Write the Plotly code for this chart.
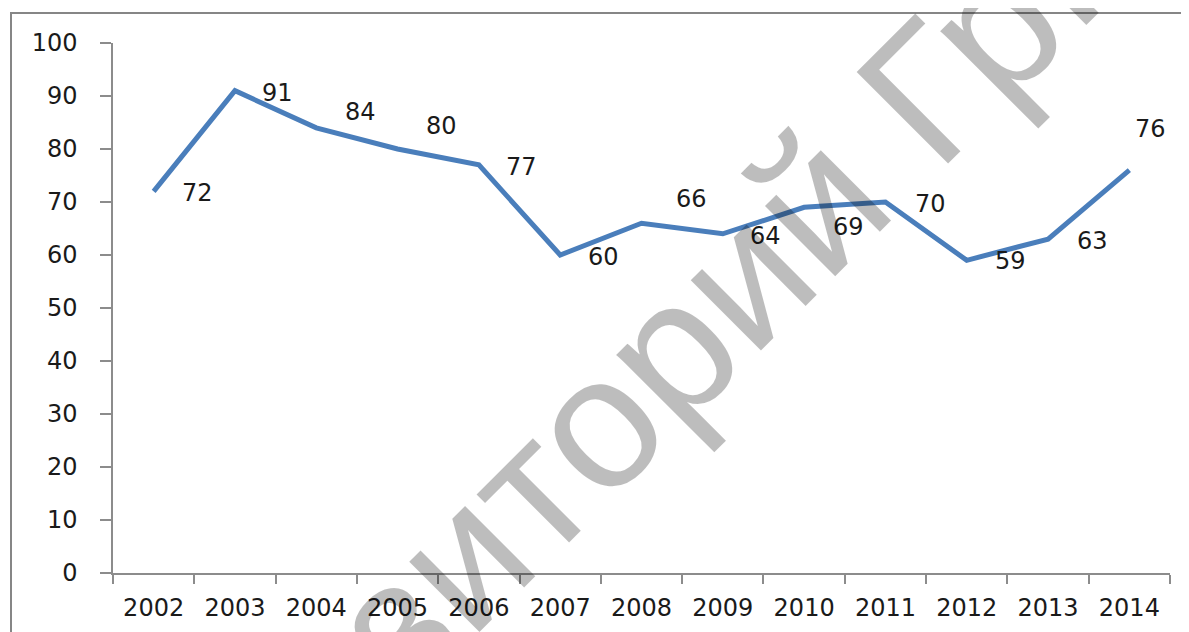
import plotly.graph_objects as go

years = ["2002", "2003", "2004", "2005", "2006", "2007", "2008",
         "2009", "2010", "2011", "2012", "2013", "2014"]
values = [72, 91, 84, 80, 77, 60, 66, 64, 69, 70, 59, 63, 76]
y_ticks = [0, 10, 20, 30, 40, 50, 60, 70, 80, 90, 100]
watermark = "Репозиторий ГрГУ"

# label placement offsets (pixels, image coords: +right, +down)
label_dx = [44, 43, 44, 44, 43, 43, 50, 43, 44, 45, 44, 44, 21]
label_dy = [2, 2, -16, -23, 2, 2, -24, 2, 20, 2, 1, 2, -41]

FONT = "DejaVu Sans"
AXIS_COLOR = "#8c8c8c"
TXT = "#1a1a1a"

fig = go.Figure()
fig.add_trace(go.Scatter(
    x=years, y=values, mode="lines",
    line=dict(color="#4A7EBB", width=5),
    hoverinfo="skip", showlegend=False,
))

for i, (v, dx, dy) in enumerate(zip(values, label_dx, label_dy)):
    fig.add_annotation(
        x=i, y=v, xref="x", yref="y", text=str(v), showarrow=False,
        xanchor="center", yanchor="middle", xshift=dx, yshift=-dy,
        font=dict(family=FONT, size=24, color=TXT),
    )

# outer chart frame
fig.add_shape(type="rect", xref="paper", yref="paper",
              x0=-0.0965, x1=1.08, y0=-0.3, y1=1.0566,
              line=dict(color="#868686", width=2), fillcolor="rgba(0,0,0,0)",
              layer="below")

# watermark
fig.add_annotation(
    x=0.484, y=0.336, xref="paper", yref="paper", text=watermark,
    showarrow=False, textangle=-45, xanchor="center", yanchor="middle",
    font=dict(family="Liberation Sans", size=188, color="rgba(0,0,0,0.26)"),
)

fig.update_layout(
    width=1189, height=632,
    margin=dict(l=105, r=27, t=35, b=67),
    paper_bgcolor="white", plot_bgcolor="white",
    font=dict(family=FONT, size=24, color=TXT),
    xaxis=dict(
        type="category", showline=True, linecolor=AXIS_COLOR, linewidth=1.5,
        ticks="outside", tickson="boundaries", ticklen=9, tickcolor=AXIS_COLOR,
        tickwidth=1.5, showgrid=False, zeroline=False,
        ticklabelstandoff=12,
        tickfont=dict(family=FONT, size=24, color=TXT),
        range=[-0.5, 12.5],
    ),
    yaxis=dict(
        range=[0, 100], tickvals=y_ticks, showline=True, linecolor=AXIS_COLOR,
        linewidth=1.5, ticks="outside", ticklen=11, tickcolor=AXIS_COLOR,
        tickwidth=1.5, showgrid=False, zeroline=False,
        ticklabelstandoff=18,
        tickfont=dict(family=FONT, size=24, color=TXT),
    ),
)

fig.write_html("out.html")
